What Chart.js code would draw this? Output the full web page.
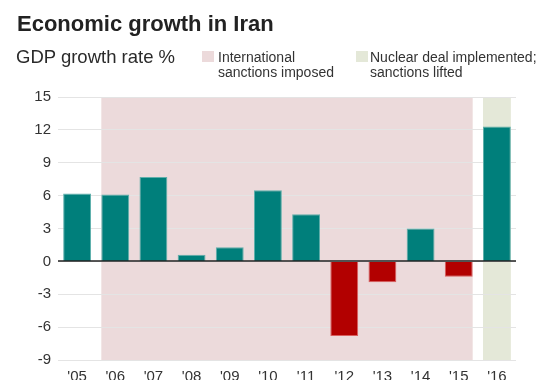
<!DOCTYPE html>
<html><head><meta charset="utf-8">
<script src="https://cdn.jsdelivr.net/npm/chart.js@4"></script>
<style>
html,body{margin:0;padding:0;width:540px;height:380px;overflow:hidden;background:#fff;font-family:'Liberation Sans',Arial,sans-serif;color:#222}
#wrap{position:relative;width:540px;height:380px;overflow:hidden}
.t{position:absolute;white-space:nowrap}
#title{left:17px;top:12.5px;font-size:22px;line-height:22px;font-weight:bold;color:#222}
#sub{left:16px;top:47.5px;font-size:18.5px;line-height:18.5px;color:#2a2a2a}
.sw{position:absolute;width:12px;height:11px}
.lg{font-size:14px;line-height:15px;color:#333}
#c{position:absolute;left:0;top:0}
</style></head>
<body>
<div id="wrap">
<canvas id="c" width="540" height="400"></canvas>
<div id="title" class="t">Economic growth in Iran</div>
<div id="sub" class="t">GDP growth rate %</div>
<div class="sw" style="left:202px;top:51px;background:#ecdadb"></div>
<div class="t lg" style="left:218px;top:49.5px">International<br>sanctions imposed</div>
<div class="sw" style="left:356px;top:51px;background:#e4e8d8"></div>
<div class="t lg" style="left:370px;top:49.5px">Nuclear deal implemented;<br>sanctions lifted</div>
</div>
<script>
const years = ["'05","'06","'07","'08","'09","'10","'11","'12","'13","'14","'15","'16"];
const growth = [6.2, 6.1, 7.7, 0.6, 1.3, 6.5, 4.3, -6.8, -1.9, 3.0, -1.4, 12.3];
const yTicks = [-9, -6, -3, 0, 3, 6, 9, 12, 15];
const sanctionsPeriod = ["'06", "'15"];
const dealPeriod = ["'16", "'16"];

const POS = '#007f7b', NEG = '#b20000';
const PINK = '#ecdadb', GREEN = '#e4e8d8';

const bandsPlugin = {
  id: 'bands',
  beforeDraw(chart) {
    const {ctx, scales: {y}} = chart;
    const meta = chart.getDatasetMeta(0);
    const top = y.getPixelForValue(yTicks[yTicks.length - 1]);
    const bottom = y.getPixelForValue(yTicks[0]);
    const band = (range, color) => {
      const a = meta.data[years.indexOf(range[0])];
      const b = meta.data[years.indexOf(range[1])];
      const x0 = a.x - a.width / 2, x1 = b.x + b.width / 2;
      ctx.save();
      ctx.fillStyle = color;
      ctx.fillRect(x0, top, x1 - x0, bottom - top);
      ctx.restore();
    };
    band(sanctionsPeriod, PINK);
    band(dealPeriod, GREEN);
  },
  afterDatasetsDraw(chart) {
    const {ctx, chartArea, scales: {y}} = chart;
    const py = Math.round(y.getPixelForValue(0));
    ctx.save();
    ctx.strokeStyle = '#222';
    ctx.lineWidth = 1.5;
    ctx.beginPath();
    ctx.moveTo(chartArea.left, py);
    ctx.lineTo(chartArea.right, py);
    ctx.stroke();
    ctx.restore();
  }
};

new Chart(document.getElementById('c'), {
  type: 'bar',
  data: {
    labels: years,
    datasets: [{
      data: growth,
      backgroundColor: growth.map(v => v >= 0 ? POS : NEG),
      borderColor: growth.map(v => v >= 0 ? 'rgba(80,170,165,0.9)' : 'rgba(215,80,80,0.9)'),
      borderWidth: 1,
      borderSkipped: 'start',
      barPercentage: 0.73,
      categoryPercentage: 1
    }]
  },
  options: {
    responsive: false,
    devicePixelRatio: 1,
    animation: false,
    layout: { padding: { top: 97, bottom: 6, left: 0, right: 24 } },
    plugins: { legend: { display: false }, tooltip: { enabled: false } },
    scales: {
      x: {
        grid: { display: false, drawTicks: false },
        border: { display: false },
        ticks: { font: { family: "'Liberation Sans', Arial, sans-serif", size: 15 }, color: '#333', padding: 8, maxRotation: 0, autoSkip: false }
      },
      y: {
        min: yTicks[0], max: yTicks[yTicks.length - 1],
        afterBuildTicks: s => { s.ticks = yTicks.map(v => ({ value: v })); },
        afterFit: s => { s.width = 58; },
        grid: { color: '#e4e4e4', lineWidth: 1, drawTicks: false },
        border: { display: false },
        ticks: { font: { family: "'Liberation Sans', Arial, sans-serif", size: 15 }, color: '#333', padding: 7 }
      }
    }
  },
  plugins: [bandsPlugin]
});
</script>
</body></html>
